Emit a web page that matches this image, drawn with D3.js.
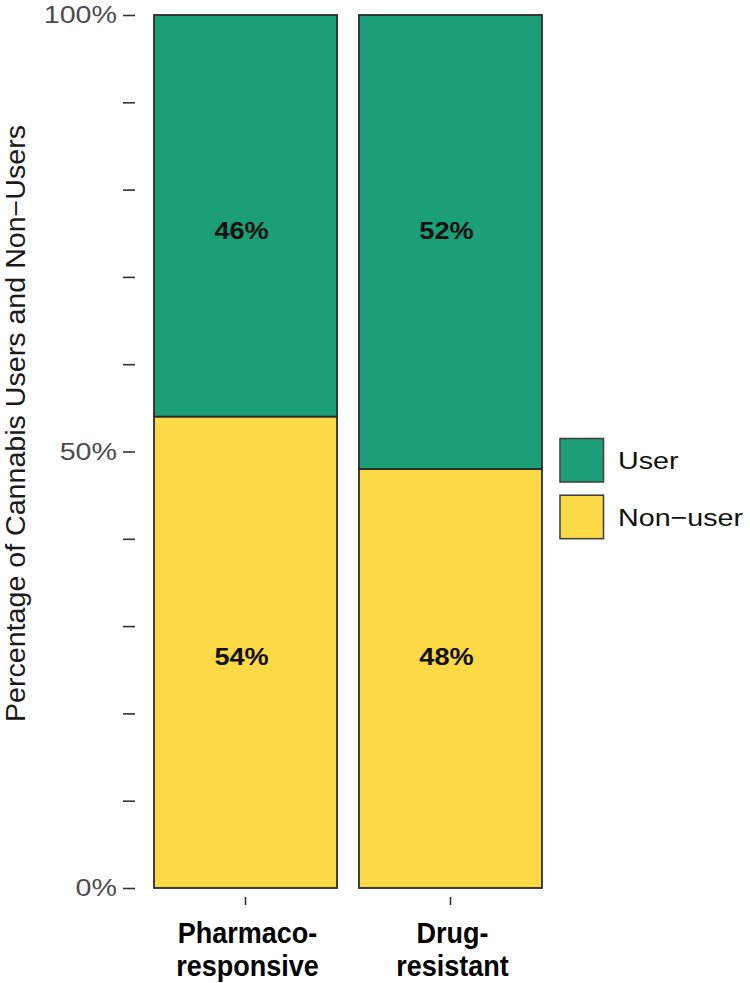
<!DOCTYPE html>
<html>
<head>
<meta charset="utf-8">
<script src="https://cdn.jsdelivr.net/npm/d3@7"></script>
<style>
  html, body { margin: 0; padding: 0; background: #fff; }
  svg { display: block; }
</style>
</head>
<body>
<svg id="chart" width="750" height="983"></svg>
<script>
// chart data
const categories = ["Pharmaco-responsive", "Drug-resistant"];
const categoryLines = [["Pharmaco-", "responsive"], ["Drug-", "resistant"]];
const userPct = [46, 52];
const nonUserPct = [54, 48];
const seriesNames = ["User", "Non\u2212user"];
const yTickValues = [0, 10, 20, 30, 40, 50, 60, 70, 80, 90, 100];
const yTickLabels = ["0%", "", "", "", "", "50%", "", "", "", "", "100%"];
const yTitle = "Percentage of Cannabis Users and Non\u2212Users";

const colors = { "User": "#1c9e77", "Non\u2212user": "#fcd946" };

const svg = d3.select("#chart");
const font = "'Liberation Sans', Arial, sans-serif";

const x = d3.scaleBand()
  .domain(categories)
  .range([143, 553])
  .paddingInner(0.107)
  .paddingOuter(0.0537);

const y = d3.scaleLinear()
  .domain([0, 100])
  .range([888, 15]);

// stacked table, non-users at the bottom
const table = categories.map((c, i) => ({
  cat: c,
  "User": userPct[i],
  "Non\u2212user": nonUserPct[i]
}));
const stack = d3.stack().keys(["Non\u2212user", "User"]);
const layers = stack(table);

// bars
svg.append("g")
  .selectAll("g")
  .data(layers)
  .join("g")
  .attr("fill", d => colors[d.key])
  .selectAll("rect")
  .data(d => d)
  .join("rect")
  .attr("x", d => x(d.data.cat))
  .attr("y", d => y(d[1]))
  .attr("width", x.bandwidth())
  .attr("height", d => y(d[0]) - y(d[1]))
  .attr("stroke", "#2b2b2b")
  .attr("stroke-width", 1.8);

// percentage labels inside bars
const labelLevel = { "User": 75.3, "Non\u2212user": 26.5 };
layers.forEach(layer => {
  svg.append("g")
    .selectAll("text")
    .data(layer)
    .join("text")
    .attr("transform", d => `translate(${x(d.data.cat) + x.bandwidth() / 2 - 4},${y(labelLevel[layer.key])}) scale(1.18,1)`)
    .attr("text-anchor", "middle")
    .attr("dy", "0.36em")
    .attr("font-family", font)
    .attr("font-weight", "bold")
    .attr("font-size", 23)
    .attr("fill", "#111")
    .text(d => (d[1] - d[0]) + "%");
});

// y axis
const yAxis = d3.axisLeft(y)
  .tickValues(yTickValues)
  .tickSize(12)
  .tickFormat((d, i) => yTickLabels[i]);

const gy = svg.append("g")
  .attr("transform", "translate(135,0)")
  .call(yAxis);
gy.select(".domain").remove();
gy.selectAll(".tick line").attr("stroke", "#333").attr("stroke-width", 1.6);
gy.selectAll(".tick text")
  .attr("x", 0)
  .attr("transform", "translate(-18,0) scale(1.17,1)")
  .attr("font-family", font)
  .attr("font-size", 24.5)
  .attr("fill", "#4d4d4d");

// x axis
const xAxis = d3.axisBottom(x).tickSize(8).tickFormat("");
const gx = svg.append("g")
  .attr("transform", "translate(0,897)")
  .call(xAxis);
gx.select(".domain").remove();
gx.selectAll(".tick line").attr("stroke", "#333").attr("stroke-width", 1.6);

const xLabels = svg.append("g")
  .selectAll("text")
  .data(categories)
  .join("text")
  .attr("transform", d => `translate(${x(d) + x.bandwidth() / 2 + 2},943) scale(0.9,1)`)
  .attr("text-anchor", "middle")
  .attr("font-family", font)
  .attr("font-weight", "bold")
  .attr("font-size", 30)
  .attr("fill", "#000");

xLabels.selectAll("tspan")
  .data((d, i) => categoryLines[i])
  .join("tspan")
  .attr("x", 0)
  .attr("dy", (d, i) => i === 0 ? 0 : 33)
  .text(d => d);

// y axis title
svg.append("text")
  .attr("transform", "translate(25,423.5) rotate(-90)")
  .attr("text-anchor", "middle")
  .attr("font-family", font)
  .attr("font-size", 27)
  .attr("textLength", 597)
  .attr("lengthAdjust", "spacingAndGlyphs")
  .attr("fill", "#1a1a1a")
  .text(yTitle);

// legend
const legend = svg.append("g")
  .selectAll("g")
  .data(seriesNames)
  .join("g")
  .attr("transform", (d, i) => `translate(560,${438.5 + i * 56.7})`);

legend.append("rect")
  .attr("width", 43.5)
  .attr("height", 43.5)
  .attr("fill", d => colors[d])
  .attr("stroke", "#444")
  .attr("stroke-width", 1.6);

legend.append("text")
  .attr("transform", "translate(58,30.8) scale(1.17,1)")
  .attr("font-family", font)
  .attr("font-size", 24.5)
  .attr("fill", "#111")
  .text(d => d);
</script>
</body>
</html>
